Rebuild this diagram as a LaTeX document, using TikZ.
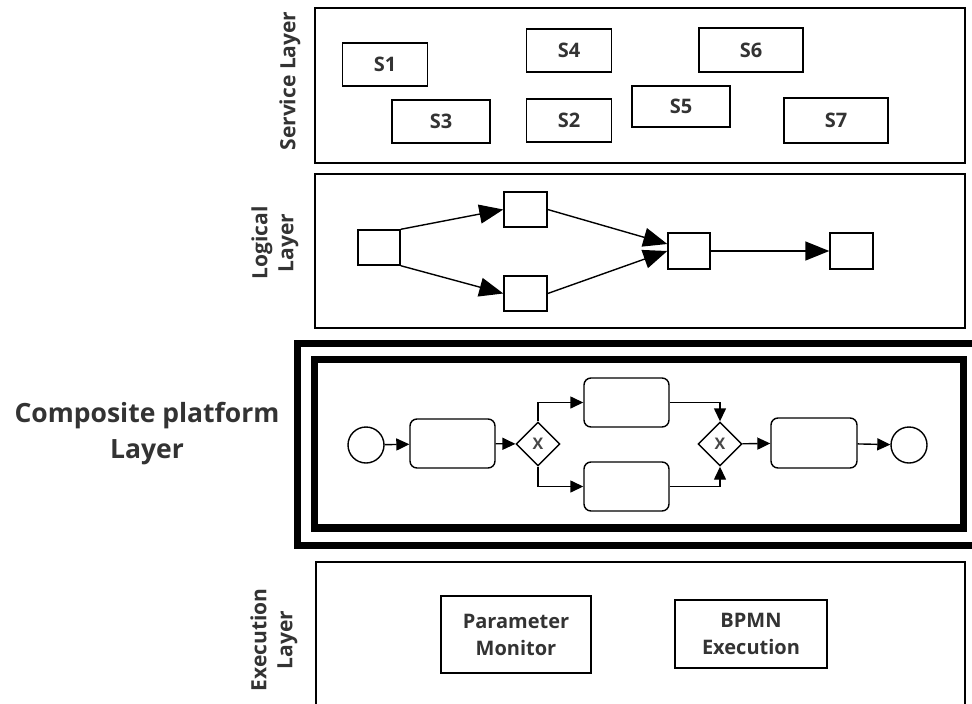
\documentclass[tikz,border=0pt]{standalone}
\usepackage{fontspec}
\setmainfont{Open Sans}
\usetikzlibrary{shapes.geometric,arrows.meta}
\definecolor{txt}{RGB}{51,51,51}
\begin{document}
\begin{tikzpicture}[x=1pt,y=-1pt,
  lbl/.style={font=\fontsize{21}{26}\selectfont\bfseries, text=txt, align=center, rotate=90},
  layerbox/.style={draw, line width=1.5pt},
  sbox/.style={draw, line width=1.5pt, inner sep=0pt, font=\fontsize{20}{22}\selectfont\bfseries, text=txt},
  lsq/.style={draw, line width=1.4pt, inner sep=0pt, minimum width=43pt, minimum height=35pt},
  bigarrow/.style={-{Triangle[length=24pt,width=19pt]}, line width=1.4pt},
  flow/.style={-{Triangle[length=13pt,width=12pt]}, line width=1.4pt},
  task/.style={draw, line width=1.4pt, rounded corners=7pt, minimum width=85pt, minimum height=49pt, inner sep=0pt},
  gate/.style={diamond, draw, line width=1.4pt, minimum width=44pt, minimum height=44pt, inner sep=0pt, font=\fontsize{16}{16}\selectfont\bfseries, text=txt!90},
  evt/.style={circle, draw, line width=1.4pt, minimum size=36pt, inner sep=0pt},
  ebox/.style={draw, line width=1.5pt, inner sep=0pt, align=center, font=\fontsize{20}{27}\selectfont\bfseries, text=txt}
]
\clip (0,0) rectangle (972,704);
\fill[white] (0,0) rectangle (972,704);

% Service layer
\draw[layerbox] (315,8) rectangle (965,163);
\node[lbl] (lsvc) at (290,81) {Service Layer};
\node[sbox, minimum width=85pt, minimum height=43pt] (s1) at (385,64.5) {S1};
\node[sbox, minimum width=85pt, minimum height=43pt] (s4) at (569,50.5) {S4};
\node[sbox, minimum width=104pt, minimum height=44pt] (s6) at (751,50) {S6};
\node[sbox, minimum width=98pt, minimum height=43pt] (s3) at (441,121.5) {S3};
\node[sbox, minimum width=85pt, minimum height=43pt] (s2) at (569,120.5) {S2};
\node[sbox, minimum width=98pt, minimum height=41pt] (s5) at (681,106.5) {S5};
\node[sbox, minimum width=104pt, minimum height=45pt] (s7) at (836,120.5) {S7};

% Logical layer
\draw[layerbox] (315,174) rectangle (965,328);
\node[lbl] (llog) at (275,243) {Logical\\Layer};
\node[lsq, minimum width=42pt] (a) at (379,247.5) {};
\node[lsq] (b) at (525.5,209.5) {};
\node[lsq] (c) at (525.5,293.5) {};
\node[lsq, minimum width=42pt, minimum height=36pt] (d) at (689,251) {};
\node[lsq, minimum height=36pt] (e) at (851.5,251) {};
\draw[bigarrow] (a.north east) -- (b.west);
\draw[bigarrow] (a.south east) -- (c.west);
\draw[bigarrow] (b.east) -- ([yshift=7pt]d.west);
\draw[bigarrow] (c.east) -- (d.west);
\draw[bigarrow] (d.east) -- (e.west);

% Composite platform layer
\draw[line width=7pt] (297,343.5) rectangle (985,545);
\draw[line width=7.5pt] (314.5,359.5) rectangle (963.5,528);
\node[font=\fontsize{26.5}{36}\selectfont\bfseries, text=txt, align=center] (lcomp) at (147,434) {Composite platform\\Layer};
\node[evt] (st) at (366,445) {};
\node[task] (t1) at (452.5,443.5) {};
\node[gate] (g1) at (538,444) {X};
\node[task] (tt) at (626.5,402.5) {};
\node[task] (tb) at (626.5,486.5) {};
\node[gate] (g2) at (720,444) {X};
\node[task, minimum width=86pt, minimum height=50pt] (t3) at (814,443) {};
\node[evt] (en) at (909,445) {};
\draw[flow] (st) -- (t1);
\draw[flow] (t1) -- (g1);
\draw[flow] (g1.north) |- (tt.west);
\draw[flow] (g1.south) |- (tb.west);
\draw[flow] (tt.east) -| (g2.north);
\draw[flow] (tb.east) -| (g2.south);
\draw[flow] (g2) -- (t3);
\draw[flow] (t3) -- (en);

% Execution layer
\draw[layerbox] (316,720) -- (316,562) -- (965,562) -- (965,720);
\node[lbl] (lexe) at (274,640) {Execution\\Layer};
\node[ebox, minimum width=150pt, minimum height=77pt] (pm) at (516,634.5) {Parameter\\Monitor};
\node[ebox, minimum width=152pt, minimum height=68pt] (bx) at (751,634) {BPMN\\Execution};
\end{tikzpicture}
\end{document}
